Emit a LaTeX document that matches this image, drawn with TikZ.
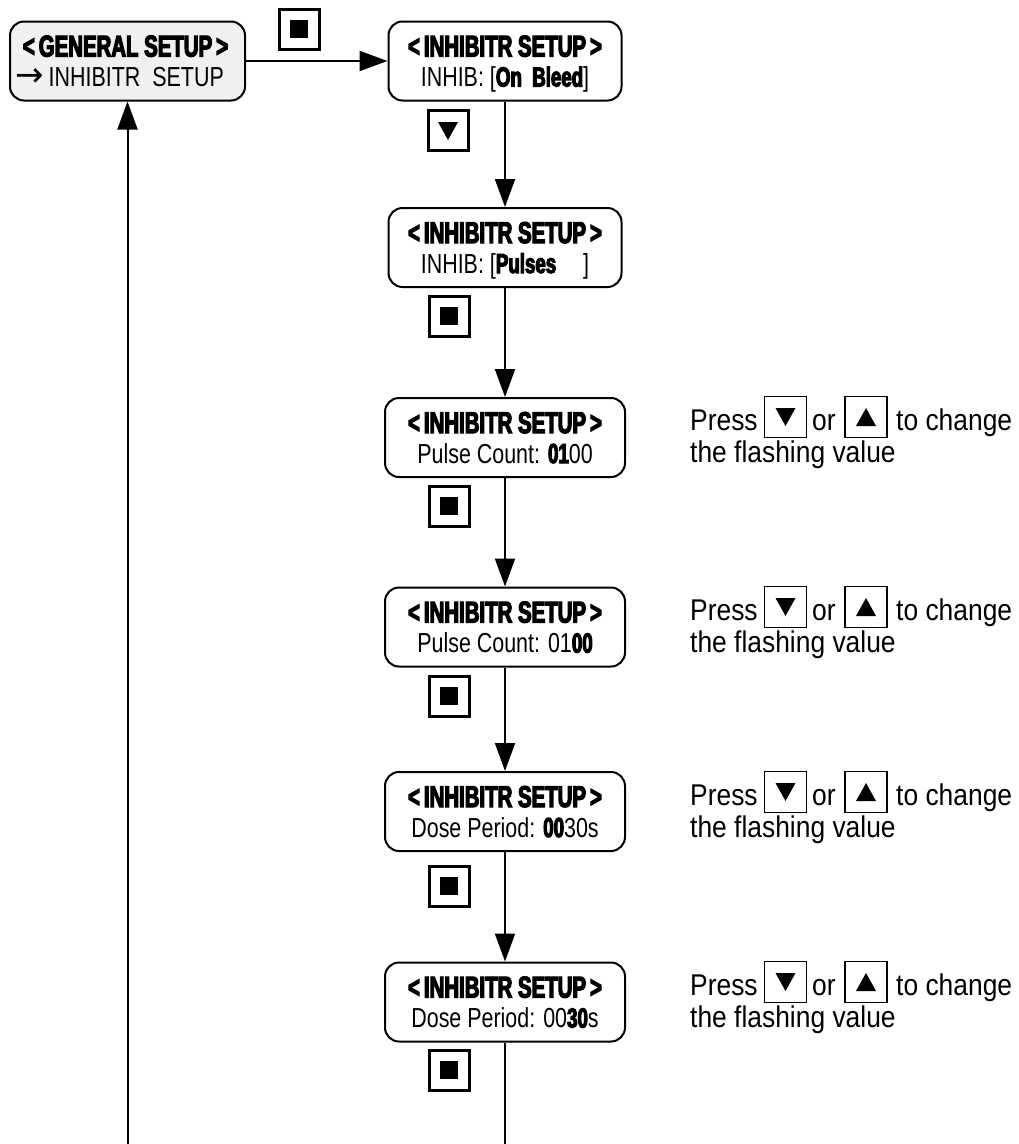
\documentclass[tikz,border=0pt]{standalone}
\usepackage{fontspec}
\setmainfont{Liberation Sans}
\newfontfamily\boxfont{Liberation Sans}[FakeStretch=0.78]
\newfontfamily\heavy{Liberation Sans Bold}[FakeStretch=0.68,FakeBold=4]
\newfontfamily\notefont{Liberation Sans}[FakeStretch=0.88]
\newfontfamily\arrowfont{DejaVu Sans}
\usetikzlibrary{arrows.meta}
\newcommand{\scrtitle}[1]{<\hspace{4pt}#1\hspace{4pt}>}
\begin{document}
\begin{tikzpicture}[x=1pt,y=-1pt,
  screen/.style={draw, line width=2pt, rounded corners=14pt, inner sep=0pt, minimum height=79pt},
  narrowscr/.style={screen, minimum width=233pt},
  widescr/.style={screen, minimum width=240pt},
  ttl/.style={font=\heavy\fontsize{30}{30}\selectfont, inner sep=0pt, anchor=base},
  sub/.style={font=\boxfont\fontsize{27.5}{30}\selectfont, inner sep=0pt, anchor=base},
  keybox/.style={draw, line width=3pt, minimum size=40pt, inner sep=0pt},
  keystop/.style={keybox, path picture={\fill[shift={(path picture bounding box.center)}] (-9pt,-9pt) rectangle (9pt,9pt);}},
  keydown/.style={keybox, path picture={\fill[shift={(path picture bounding box.center)}] (-10pt,8pt) -- (10pt,8pt) -- (0pt,-10pt) -- cycle;}},
  notekey/.style={draw, line width=1.5pt, minimum width=42pt, minimum height=41pt, inner sep=0pt},
  notedown/.style={notekey, path picture={\fill[shift={(path picture bounding box.center)}] (-10pt,9pt) -- (10pt,9pt) -- (0pt,-9pt) -- cycle;}},
  noteup/.style={notekey, path picture={\fill[shift={(path picture bounding box.center)}] (-10pt,-9pt) -- (10pt,-9pt) -- (0pt,9pt) -- cycle;}},
  note/.style={font=\notefont\fontsize{30}{32}\selectfont, inner sep=0pt, anchor=base west},
  flow/.style={line width=2pt, -{Triangle[length=28pt,width=20pt]}},
  plain/.style={line width=2pt}
]
\useasboundingbox (0,0) rectangle (1019,1144);

% screens
\node[screen, minimum width=235pt, fill=black!6] (g) at (127.5,61) {};
\node[narrowscr] (b1) at (505,61) {};
\node[narrowscr] (b2) at (505,247.5) {};
\node[widescr] (b3) at (505,437.5) {};
\node[widescr] (b4) at (505,627) {};
\node[widescr] (b5) at (505,811.5) {};
\node[widescr] (b6) at (505,1002) {};

% screen texts
\node[ttl] (gt) at ([xshift=-2pt,yshift=-36pt]g.north) {\scrtitle{GENERAL SETUP}};
\node[sub, anchor=base west] (gs) at ([xshift=6pt,yshift=-66pt]g.north west) {{\arrowfont\fontsize{34}{30}\selectfont →}\hspace{5pt}INHIBITR\ \ SETUP};
\foreach \b in {b1,b2,b3,b4,b5,b6}{
  \node[ttl] (\b t) at ([yshift=-36pt]\b.north) {\scrtitle{INHIBITR SETUP}};
}
\node[sub] (b1s) at ([yshift=-66pt]b1.north) {INHIB: [{\heavy On\ \ Bleed}]};
\node[sub] (b2s) at ([yshift=-66pt]b2.north) {INHIB: [\rlap{\heavy Pulses}\phantom{\heavy On\ \ Bleed}]};
\node[sub] (b3s) at ([yshift=-66pt]b3.north) {Pulse Count: {\heavy 01}00};
\node[sub] (b4s) at ([yshift=-66pt]b4.north) {Pulse Count: 01{\heavy 00}};
\node[sub] (b5s) at ([yshift=-66pt]b5.north) {Dose Period: {\heavy 00}30s};
\node[sub] (b6s) at ([yshift=-66pt]b6.north) {Dose Period: 00{\heavy 30}s};

% keys
\node[keystop] (k0) at (299,29) {};
\node[keydown] (k1) at (448,130) {};
\node[keystop] (k2) at (449,316) {};
\node[keystop] (k3) at (449,506) {};
\node[keystop] (k4) at (449,696) {};
\node[keystop] (k5) at (449,886) {};
\node[keystop] (k6) at (449,1070) {};

% connectors
\coordinate (gend) at (127.5,1144);
\coordinate (bend) at (505,1144);
\draw[flow] (g) -- (b1);
\draw[flow] (b1) -- (b2);
\draw[flow] (b2) -- (b3);
\draw[flow] (b3) -- (b4);
\draw[flow] (b4) -- (b5);
\draw[flow] (b5) -- (b6);
\draw[plain] (b6) -- (bend);
\draw[flow] (gend) -- (g);

% notes
\foreach \i/\t in {3/397,4/587,5/772,6/962}{
  \node[note] (p\i) at (690,\t+33) {Press};
  \node[notedown] (pd\i) at (785.5,\t+20) {};
  \node[note] (o\i) at (812,\t+33) {or};
  \node[noteup] (pu\i) at (866,\t+20) {};
  \node[note] (c\i) at (896,\t+33) {to change};
  \node[note] (f\i) at (690,\t+65) {the flashing value};
}
\end{tikzpicture}
\end{document}
